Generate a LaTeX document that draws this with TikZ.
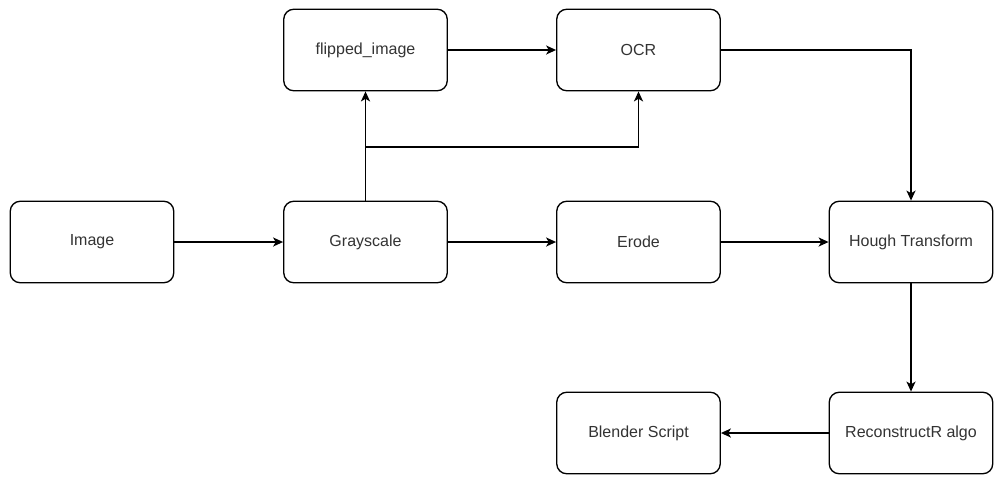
\documentclass[tikz,border=0pt]{standalone}
\usepackage{fontspec}
\setmainfont{Liberation Sans}
\usetikzlibrary{arrows.meta}
\definecolor{txt}{HTML}{333333}
\tikzset{
  stepbox/.style={draw=black, line width=1pt, rounded corners=7.5pt,
    minimum width=163.5*0.75pt, minimum height=81.5*0.75pt, inner sep=0pt,
    text=txt, font=\fontsize{12pt}{14pt}\selectfont, fill=white},
  flow/.style={draw=black, line width=1pt,
    -{Stealth[length=7.5pt, width=6.8pt, inset=2pt]}}
}
\begin{document}
\begin{tikzpicture}[x=0.75pt, y=-0.75pt]
  \useasboundingbox (0,0) rectangle (995,476);
  % column centres: 92, 365.5, 638.5, 911 -- row centres: 50, 242, 433
  \node[stepbox] (img)   at (92,242)    {Image};
  \node[stepbox] (gray)  at (365.5,242) {Grayscale};
  \node[stepbox] (erode) at (638.5,242) {Erode};
  \node[stepbox] (hough) at (911,242)   {Hough Transform};
  \node[stepbox] (flip)  at (365.5,50)  {flipped\_image};
  \node[stepbox] (ocr)   at (638.5,50)  {OCR};
  \node[stepbox] (blend) at (638.5,433) {Blender Script};
  \node[stepbox] (recon) at (911,433)   {ReconstructR algo};
  \coordinate (split) at (365.5,147);

  \draw[flow] (img) -- (gray);
  \draw[flow] (gray) -- (erode);
  \draw[flow] (erode) -- (hough);
  \draw[flow] (gray.north) -- (flip.south);
  \draw[flow] (split) -| (ocr.south);
  \draw[flow] (flip) -- (ocr);
  \draw[flow] (ocr.east) -| (hough.north);
  \draw[flow] (hough) -- (recon);
  \draw[flow] (recon) -- (blend);
\end{tikzpicture}
\end{document}
